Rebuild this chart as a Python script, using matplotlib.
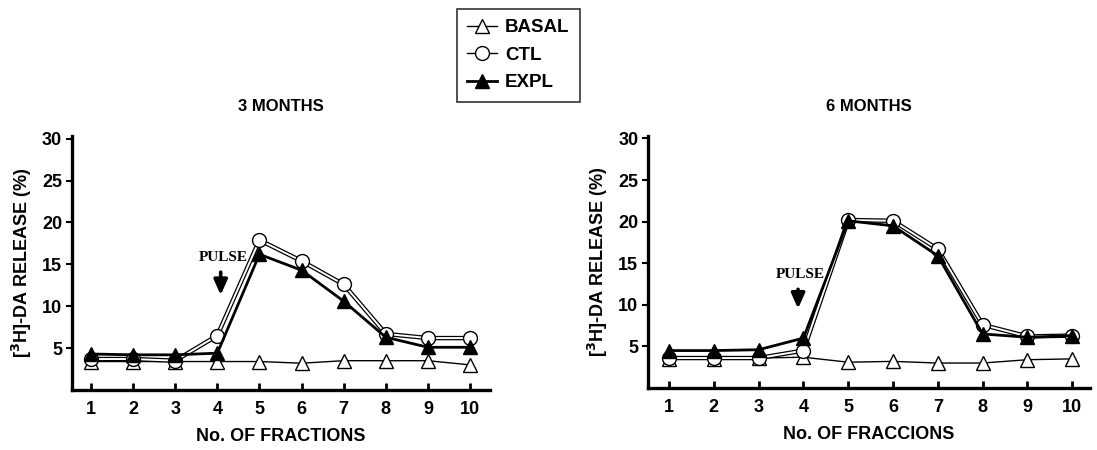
import numpy as np
import matplotlib.pyplot as plt
from matplotlib.lines import Line2D

plt.rcParams['font.family'] = ['Liberation Sans', 'DejaVu Sans']
plt.rcParams['font.weight'] = 'bold'

fractions = np.arange(1, 11)

# 3 months
basal_3 = [3.4, 3.4, 3.4, 3.4, 3.4, 3.2, 3.5, 3.5, 3.5, 3.0]
ctl_3 = [3.7, 3.7, 3.5, 6.5, 17.9, 15.4, 12.6, 6.7, 6.2, 6.2]
expl_3 = [4.3, 4.2, 4.2, 4.4, 16.2, 14.3, 10.6, 6.3, 5.1, 5.1]

# 6 months
basal_6 = [3.5, 3.5, 3.6, 3.7, 3.1, 3.2, 3.0, 3.0, 3.4, 3.5]
ctl_6 = [3.6, 3.6, 3.6, 4.5, 20.2, 20.1, 16.7, 7.6, 6.2, 6.3]
expl_6 = [4.5, 4.5, 4.6, 6.0, 20.1, 19.5, 15.9, 6.5, 6.1, 6.3]

panels = [
    ('3 MONTHS', 'No. OF FRACTIONS', basal_3, ctl_3, expl_3,
     [0.0656, 0.1333, 0.381, 0.564], (0.55, 10.47), (4.13, 15.8, 14.4, 11.0)),
    ('6 MONTHS', 'No. OF FRACCIONS', basal_6, ctl_6, expl_6,
     [0.5907, 0.1378, 0.403, 0.56], (0.53, 10.4), (3.93, 13.7, 12.2, 9.2)),
]

fig = plt.figure(figsize=(10.97, 4.5), dpi=100, facecolor='white')

for title, xlab, basal, ctl, expl, rect, xl, pulse in panels:
    ax = fig.add_axes(rect)
    # basal
    ax.plot(fractions, basal, '-', color='black', lw=1.0, zorder=2)
    ax.plot(fractions, basal, '^', ms=10, mfc='white', mec='black', mew=1.0, zorder=3)
    # ctl: hollow double line
    ax.plot(fractions, ctl, '-', color='black', lw=3.2, zorder=4)
    ax.plot(fractions, ctl, '-', color='white', lw=1.4, zorder=5)
    ax.plot(fractions, ctl, 'o', ms=10, mfc='white', mec='black', mew=1.0, zorder=6)
    # expl
    ax.plot(fractions, expl, '-', color='black', lw=2.0, zorder=7)
    ax.plot(fractions, expl, '^', ms=10, mfc='black', mec='black', zorder=8)

    ax.set_xlim(*xl)
    ax.set_ylim(0, 30.3)
    ax.set_xticks(fractions)
    ax.set_yticks([5, 10, 15, 20, 25, 30])
    for s in ['top', 'right']:
        ax.spines[s].set_visible(False)
    for s in ['left', 'bottom']:
        ax.spines[s].set_linewidth(2.4)
    ax.tick_params(axis='x', direction='in', length=5, width=2, labelsize=13, pad=8)
    ax.tick_params(axis='y', direction='out', length=4, width=1.5, labelsize=13, pad=3)
    for lab in ax.get_xticklabels() + ax.get_yticklabels():
        lab.set_fontweight('bold')
    ax.set_xlabel(xlab, fontsize=13, fontweight='bold', labelpad=7)
    ax.set_ylabel('[$^{3}$H]-DA RELEASE (%)', fontsize=13, fontweight='bold', labelpad=6)
    ax.set_title(title, fontsize=12, fontweight='bold', pad=18)

    px, ty, a0, a1 = pulse
    ax.text(px, ty, 'PULSE', family='Liberation Serif', fontsize=11, fontweight='bold',
            ha='center', va='center')
    ax.annotate('', xy=(px - 0.05, a1), xytext=(px - 0.05, a0),
                arrowprops=dict(arrowstyle='-|>,head_width=0.4,head_length=0.9',
                                color='black', lw=2.6))

handles = [
    Line2D([], [], color='black', lw=1.0, marker='^', ms=10, mfc='white', mec='black'),
    Line2D([], [], color='black', lw=1.0, marker='o', ms=10, mfc='white', mec='black'),
    Line2D([], [], color='black', lw=2.0, marker='^', ms=10, mfc='black', mec='black'),
]
leg = fig.legend(handles, ['BASAL', 'CTL', 'EXPL'], loc='upper left',
                 bbox_to_anchor=(457 / 1097, 1 - 9 / 450), borderaxespad=0,
                 frameon=True, fancybox=False, edgecolor='black',
                 handlelength=1.6, handletextpad=0.4, labelspacing=0.55,
                 prop={'weight': 'bold', 'size': 13.5}, borderpad=0.55)
leg.get_frame().set_linewidth(1.2)

fig.savefig('out.png', dpi=100, facecolor='white')
